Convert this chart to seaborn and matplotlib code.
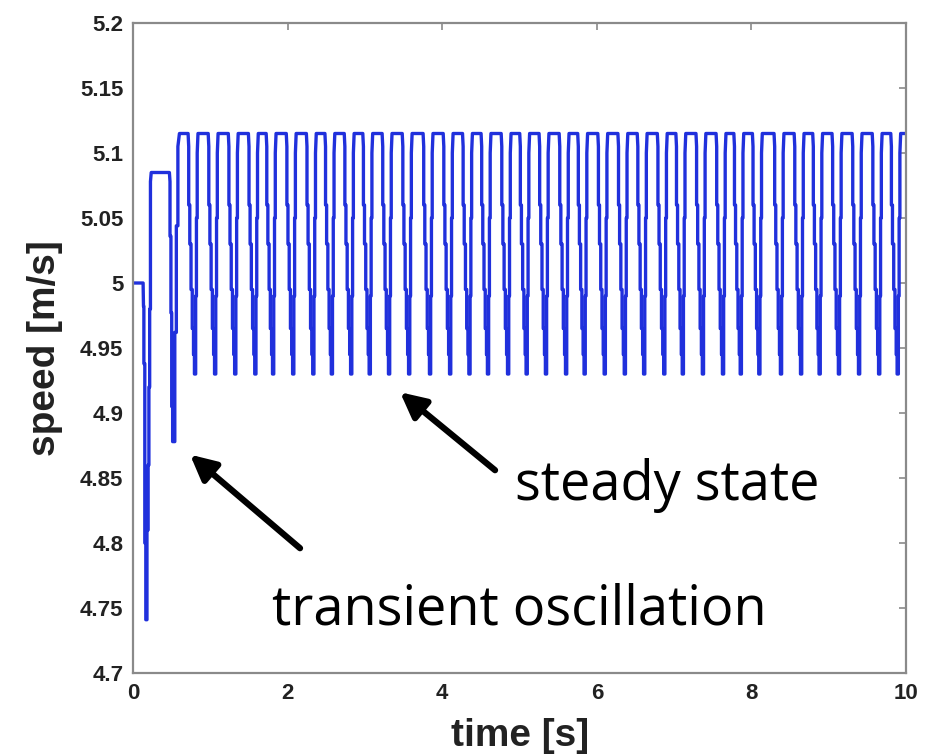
"""
plot.py
=======
Speed trace of the controlled vehicle: transient oscillation settling
into a periodic steady state.
"""

import numpy as np
import pandas as pd
import matplotlib
matplotlib.use("Agg")
import matplotlib.pyplot as plt
import seaborn as sns

# --- start-up transient (time [s], speed [m/s]) ---
transient_t = [0.000, 0.130, 0.135, 0.140, 0.140, 0.152, 0.152, 0.165, 0.165, 0.180,
               0.180, 0.195, 0.195, 0.205, 0.205, 0.215, 0.215, 0.225, 0.225, 0.235,
               0.470, 0.478, 0.478, 0.490, 0.490, 0.500, 0.500, 0.512, 0.512, 0.525,
               0.540, 0.540, 0.560, 0.560, 0.580, 0.580, 0.600]
transient_v = [5.000, 5.000, 4.982, 4.982, 4.938, 4.938, 4.800, 4.800, 4.741, 4.741,
               4.810, 4.810, 4.860, 4.860, 4.920, 4.920, 4.980, 4.980, 5.078, 5.085,
               5.085, 5.078, 5.036, 5.036, 4.977, 4.977, 4.905, 4.905, 4.878, 4.878,
               4.878, 4.962, 4.962, 5.044, 5.044, 5.105, 5.115]

# --- steady state: times of the lower turning points ---
dip_times = [0.80, 1.06, 1.32, 1.58, 1.81, 2.07, 2.33, 2.57, 2.82, 3.06,
             3.31, 3.57, 3.84, 4.10, 4.35, 4.59, 4.85, 5.09, 5.34, 5.60,
             5.84, 6.10, 6.36, 6.61, 6.87, 7.11, 7.37, 7.63, 7.86, 8.10,
             8.38, 8.64, 8.88, 9.13, 9.39, 9.65, 9.89]

# staircase falling into a dip (offset from the dip, speed)
fall_offset = [-0.088, -0.080, -0.080, -0.066, -0.066, -0.050, -0.050, -0.034,
               -0.034, -0.018, -0.018, -0.006, -0.006]
fall_speed = [5.115, 5.105, 5.060, 5.060, 5.030, 5.030, 4.995, 4.995,
              4.965, 4.965, 4.945, 4.945, 4.930]

# staircase climbing out of a dip back to the upper plateau
rise_offset = [0.004, 0.010, 0.010, 0.020, 0.020, 0.030, 0.030, 0.040]
rise_speed = [4.930, 4.930, 4.990, 4.990, 5.050, 5.050, 5.100, 5.115]

t_end = 10.05
v_top = 5.115

x_ticks = [0, 2, 4, 6, 8, 10]
y_ticks = [4.7, 4.75, 4.8, 4.85, 4.9, 4.95, 5.0, 5.05, 5.1, 5.15, 5.2]
y_tick_labels = ["4.7", "4.75", "4.8", "4.85", "4.9", "4.95", "5", "5.05", "5.1", "5.15", "5.2"]

# assemble one continuous trace
t_all = list(transient_t)
v_all = list(transient_v)
for d in dip_times:
    t_all += [d + o for o in fall_offset] + [d + o for o in rise_offset]
    v_all += fall_speed + rise_speed
t_all.append(t_end)
v_all.append(v_top)

df = pd.DataFrame({"time": t_all, "speed": v_all, "order": np.arange(len(t_all))})

sns.set_style("white")
plt.rcParams["font.family"] = ["Liberation Sans", "DejaVu Sans"]

fig = plt.figure(figsize=(9.37, 7.54), dpi=100)
ax = fig.add_axes([0.142, 0.1074, 0.825, 0.8621])

line_blue = "#2030dc"
sns.lineplot(data=df, x="time", y="speed", ax=ax, sort=False, estimator=None,
             color=line_blue, linewidth=2.4)

ax.set_xlim(0, 10)
ax.set_ylim(4.7, 5.2)
ax.set_xticks(x_ticks)
ax.set_xticklabels([str(x) for x in x_ticks])
ax.set_yticks(y_ticks)
ax.set_yticklabels(y_tick_labels)

frame_gray = "#8a8a8a"
for s in ax.spines.values():
    s.set_visible(True)
    s.set_color(frame_gray)
    s.set_linewidth(1.6)
ax.tick_params(direction="in", length=5, width=1.2, color=frame_gray,
               top=True, right=True, pad=7, labelsize=16, labelcolor="#222222")
for lab in ax.get_xticklabels() + ax.get_yticklabels():
    lab.set_fontweight("bold")

ax.set_xlabel("time [s]", fontsize=28, fontweight="bold", color="#222222", labelpad=10)
ax.set_ylabel("speed [m/s]", fontsize=28, fontweight="bold", color="#222222", labelpad=12)

# annotations
arrow_kw = dict(arrowstyle="-|>", color="black", lw=4.5, mutation_scale=38,
                shrinkA=0, shrinkB=0)
ax.annotate("", xy=(3.454, 4.916), xytext=(4.683, 4.856), arrowprops=arrow_kw)
ax.annotate("", xy=(0.737, 4.868), xytext=(2.160, 4.796), arrowprops=arrow_kw)

ax.text(4.94, 4.833, "steady state", fontsize=39, family=["Open Sans", "DejaVu Sans"],
        ha="left", va="baseline", color="black")
ax.text(1.80, 4.737, "transient oscillation", fontsize=39, family=["Open Sans", "DejaVu Sans"],
        ha="left", va="baseline", color="black")

fig.savefig("out.png", dpi=100)
plt.close(fig)
